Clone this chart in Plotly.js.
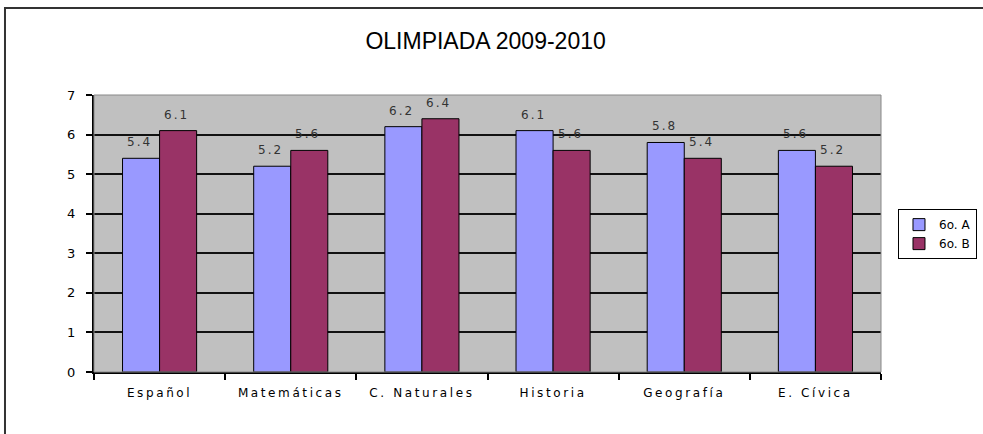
<!DOCTYPE html>
<html>
<head>
<meta charset="utf-8">
<script src="https://cdn.plot.ly/plotly-3.0.1.min.js"></script>
<style>
html,body{margin:0;padding:0;background:#fff;}
#chart{width:983px;height:434px;}
#chart .xtick text{letter-spacing:2.6px;}
#chart .annotation-text{letter-spacing:2px;}
</style>
</head>
<body>
<div id="chart"></div>
<script>
const categories = ["Español", "Matemáticas", "C. Naturales", "Historia", "Geografía", "E. Cívica"];
const seriesA = [5.4, 5.2, 6.2, 6.1, 5.8, 5.6];
const seriesB = [6.1, 5.6, 6.4, 5.6, 5.4, 5.2];
const seriesNames = ["6o. A", "6o. B"];
const yTicks = [0, 1, 2, 3, 4, 5, 6, 7];

const traces = [
  {type: 'bar', x: categories, y: seriesA, name: seriesNames[0],
   marker: {color: '#9999FF', line: {color: '#000', width: 1}}, hoverinfo: 'skip'},
  {type: 'bar', x: categories, y: seriesB, name: seriesNames[1],
   marker: {color: '#993366', line: {color: '#000', width: 1}}, hoverinfo: 'skip'}
];

const annotations = [];
[seriesA, seriesB].forEach((s, si) => {
  s.forEach((v, i) => {
    annotations.push({x: categories[i], y: v, xref: 'x', yref: 'y', text: v.toFixed(1),
      showarrow: false, xshift: si === 0 ? -20 : 17, yshift: 16,
      font: {family: 'DejaVu Sans', size: 12, color: '#333'}});
  });
});

const layout = {
  width: 983, height: 434,
  margin: {l: 94, r: 102, t: 95, b: 62, autoexpand: false},
  paper_bgcolor: '#fff', plot_bgcolor: '#C0C0C0',
  title: {text: 'OLIMPIADA 2009-2010', x: 0.494, xanchor: 'center', y: 0.905, yanchor: 'middle',
    font: {family: 'Liberation Sans', size: 23, color: '#000'}},
  bargap: 0.435, bargroupgap: 0,
  barmode: 'group',
  xaxis: {type: 'category', showline: true, linecolor: '#000', linewidth: 2,
    ticks: 'outside', ticklen: 6, tickcolor: '#000', tickwidth: 2, tickson: 'boundaries',
    ticklabelstandoff: 9, automargin: false,
    showgrid: false, tickfont: {family: 'DejaVu Sans', size: 12, color: '#000'}},
  yaxis: {range: [0, 7], tickvals: yTicks, showline: true, linecolor: '#000', linewidth: 2,
    ticks: 'outside', ticklen: 6, tickcolor: '#000', tickwidth: 2, gridcolor: '#111', gridwidth: 2,
    ticklabelstandoff: 8, automargin: false,
    zeroline: false, tickfont: {family: 'DejaVu Sans', size: 13, color: '#000'}},
  legend: {x: 1.0216, y: 0.588, xanchor: 'left', yanchor: 'top', bgcolor: '#fff',
    bordercolor: '#000', borderwidth: 1, font: {family: 'DejaVu Sans', size: 12, color: '#000'},
    itemwidth: 30, tracegroupgap: 2},
  showlegend: true,
  annotations: annotations,
  shapes: [
    {type: 'rect', xref: 'paper', yref: 'paper', x0: 0, x1: 1, y0: 0, y1: 1,
     line: {color: '#888', width: 1}, layer: 'above'},
    {type: 'rect', xref: 'paper', yref: 'paper', x0: -0.1131, x1: 1.2, y0: -0.3, y1: 1.314,
     line: {color: '#333', width: 2}}
  ]
};

Plotly.newPlot('chart', traces, layout, {displayModeBar: false, staticPlot: true});
</script>
</body>
</html>
